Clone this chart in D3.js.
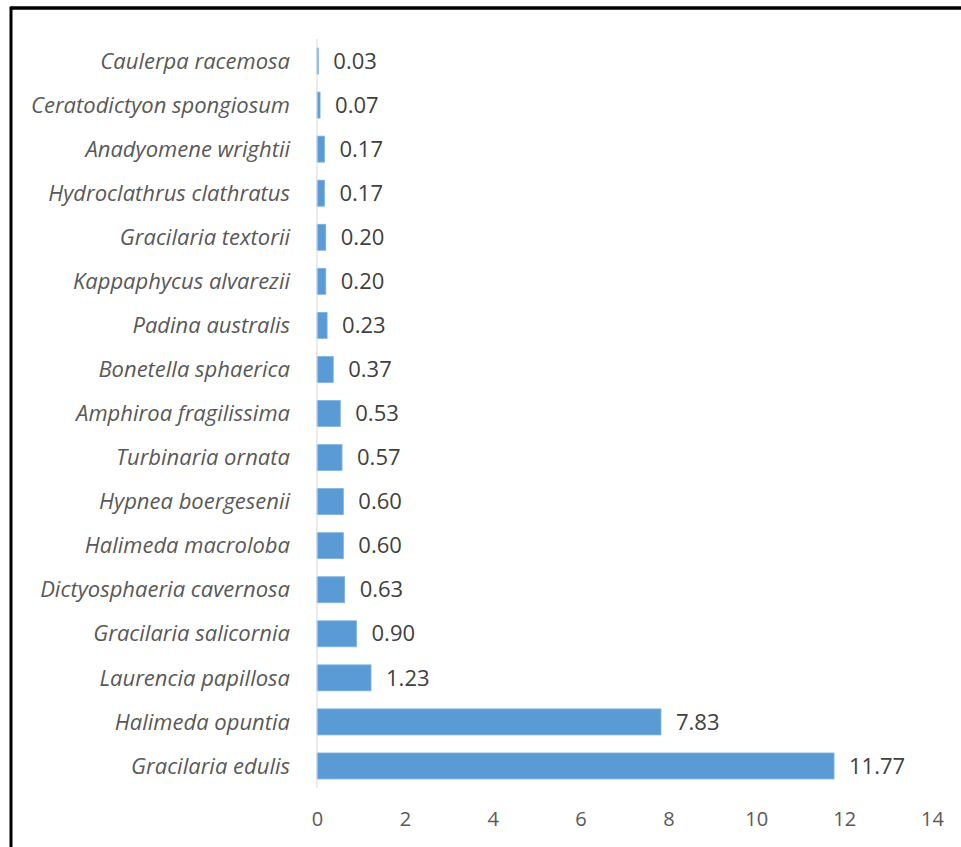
<!DOCTYPE html>
<html>
<head>
<meta charset="utf-8">
<script src="https://cdn.jsdelivr.net/npm/d3@7"></script>
<style>
  html, body { margin: 0; padding: 0; background: #fff; }
  svg { display: block; }
</style>
</head>
<body>
<svg id="chart" width="961" height="847"></svg>
<script>
// Species, top to bottom
const species = [
  "Caulerpa racemosa",
  "Ceratodictyon spongiosum",
  "Anadyomene wrightii",
  "Hydroclathrus clathratus",
  "Gracilaria textorii",
  "Kappaphycus alvarezii",
  "Padina australis",
  "Bonetella sphaerica",
  "Amphiroa fragilissima",
  "Turbinaria ornata",
  "Hypnea boergesenii",
  "Halimeda macroloba",
  "Dictyosphaeria cavernosa",
  "Gracilaria salicornia",
  "Laurencia papillosa",
  "Halimeda opuntia",
  "Gracilaria edulis"
];
const values = [0.03, 0.07, 0.17, 0.17, 0.20, 0.20, 0.23, 0.37, 0.53, 0.57, 0.60, 0.60, 0.63, 0.90, 1.23, 7.83, 11.77];
const xTicks = [0, 2, 4, 6, 8, 10, 12, 14];

const svg = d3.select("#chart");
const font = "'Open Sans', 'Noto Sans', sans-serif";

// Frame: heavy rule along the top and left edges
svg.append("line").attr("x1", 11).attr("x2", 961).attr("y1", 8).attr("y2", 8)
  .attr("stroke", "#000").attr("stroke-width", 3.5);
svg.append("line").attr("x1", 11).attr("x2", 11).attr("y1", 6.5).attr("y2", 847)
  .attr("stroke", "#000").attr("stroke-width", 3);

const x = d3.scaleLinear().domain([0, 14]).range([317, 932]);
const y = d3.scaleBand().domain(species).range([39, 788]).paddingInner(0.41).paddingOuter(0.205);

// Bars
svg.append("g").selectAll("rect").data(species).join("rect")
  .attr("x", x(0))
  .attr("y", d => y(d))
  .attr("width", (d, i) => x(values[i]) - x(0))
  .attr("height", y.bandwidth())
  .attr("fill", "#5B9BD5")
  .attr("stroke", "#7FB2E0")
  .attr("stroke-width", 0.8);

// Category axis line
svg.append("line").attr("x1", x(0)).attr("x2", x(0)).attr("y1", 39).attr("y2", 788)
  .attr("stroke", "#D9D9D9").attr("stroke-width", 1);

// Category labels
svg.append("g").selectAll("text").data(species).join("text")
  .attr("x", 290)
  .attr("y", d => y(d) + y.bandwidth() / 2)
  .attr("dy", "0.35em")
  .attr("text-anchor", "end")
  .attr("font-family", font)
  .attr("font-style", "italic")
  .attr("font-size", 22)
  .attr("fill", "#595959")
  .text(d => d);

// Value labels
svg.append("g").selectAll("text").data(species).join("text")
  .attr("x", (d, i) => x(values[i]) + 15)
  .attr("y", d => y(d) + y.bandwidth() / 2)
  .attr("dy", "0.35em")
  .attr("font-family", font)
  .attr("font-size", 22)
  .attr("fill", "#404040")
  .text((d, i) => values[i].toFixed(2));

// Value axis
const xAxis = d3.axisBottom(x).tickValues(xTicks).tickSize(0).tickPadding(0).tickFormat(d3.format("d"));
const gx = svg.append("g").attr("transform", "translate(0,812)").call(xAxis);
gx.select(".domain").remove();
gx.selectAll("text")
  .attr("font-family", font)
  .attr("font-size", 20)
  .attr("fill", "#595959")
  .attr("dy", "0.71em");
</script>
</body>
</html>
